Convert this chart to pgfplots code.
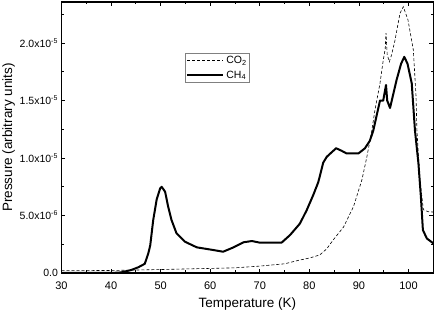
\documentclass[border=0pt]{standalone}
\usepackage{fontspec}
\setmainfont{Liberation Sans}
\usepackage{pgfplots}
\pgfplotsset{compat=1.18}
\begin{document}
\begin{tikzpicture}
\path[use as bounding box] (-61.5pt,-39pt) rectangle (374.5pt,273pt);
\begin{axis}[
  scale only axis,
  width=371.8pt, height=271pt,
  xmin=30, xmax=105, ymin=0, ymax=2.357,
  axis line style={line width=1.4pt},
  xtick={30,40,...,100},
  minor xtick={35,45,...,105},
  ytick={0,0.5,1,1.5,2},
  yticklabels={0.0,{5.0x10$^{\mbox{\scriptsize -6}}$},{1.0x10$^{\mbox{\scriptsize -5}}$},{1.5x10$^{\mbox{\scriptsize -5}}$},{2.0x10$^{\mbox{\scriptsize -5}}$}},
  minor ytick={0.25,0.75,1.25,1.75,2.25},
  tick align=inside,
  major tick length=4pt, minor tick length=2.5pt,
  tick style={black, line width=0.8pt},
  xticklabel style={font=\fontsize{11}{12}\selectfont, yshift=-5pt},
  yticklabel style={font=\fontsize{10.5}{12}\selectfont},
  /pgf/number format/assume math mode=true,
  xlabel={Temperature (K)},
  ylabel={Pressure (arbitrary units)},
  label style={font=\fontsize{13.5}{15}\selectfont},
  xlabel style={yshift=-2pt},
  ylabel style={yshift=-2pt},
  legend style={at={(0.332,0.813)}, anchor=north west, draw=gray, line width=0.8pt,
    font=\fontsize{10.5}{12}\selectfont, inner sep=1pt, row sep=2pt},
  legend cell align=left,
  legend image code/.code={\draw[#1] (0pt,0pt) -- (36pt,0pt);},
]
\addplot[black, line width=0.6pt, dash pattern=on 3pt off 2pt] coordinates {
(30,0.02) (40,0.022) (50,0.03) (60,0.04) (65,0.045) (70,0.06) (75,0.08)
(78.1,0.113) (80,0.13) (82.1,0.157) (83.5,0.21) (84.8,0.287) (86.9,0.40)
(88.9,0.577) (90.6,0.81) (91.6,1.01) (92.6,1.24) (93.24,1.42) (94.25,1.65)
(94.9,1.85) (95.3,1.95) (95.46,2.087) (95.7,1.9) (96.13,1.837) (96.6,1.90)
(97.28,2.026) (98.29,2.26) (98.95,2.316) (99.9,2.2) (100.97,1.94) (101.5,1.55)
(101.7,1.24) (102.3,0.81) (103,0.55) (104,0.533) (105,0.53)
};
\addlegendentry{CO\textsubscript{2}}
\addplot[black, line width=2pt, line join=round] coordinates {
(30,0) (40,0) (42,0.005) (44,0.025) (45.5,0.05) (46.8,0.08) (47.5,0.17)
(47.9,0.24) (48.5,0.46) (49.2,0.64) (49.9,0.736) (50.2,0.75) (50.9,0.707)
(51.5,0.58) (52.2,0.46) (53.2,0.345) (54.9,0.272) (57.3,0.223) (60.6,0.20)
(62.6,0.185) (64.7,0.223) (66.7,0.267) (68.4,0.278) (70,0.264) (74.4,0.264)
(76.1,0.33) (78.1,0.43) (79.5,0.55) (80.8,0.68) (81.8,0.79) (82.8,0.96)
(83.5,1.01) (84.5,1.05) (85.4,1.085) (86.5,1.063) (87.5,1.04) (89.9,1.04)
(91.2,1.084) (92.2,1.15) (92.9,1.24) (94.25,1.50) (94.9,1.50) (95.46,1.635)
(95.7,1.50) (96.27,1.435) (97.6,1.68) (98.5,1.82) (99.15,1.88) (99.8,1.82)
(100.65,1.65) (101.3,1.24) (102.0,0.954) (102.5,0.66) (102.9,0.374)
(103.7,0.30) (105,0.258)
};
\addlegendentry{CH\textsubscript{4}}
\end{axis}
\end{tikzpicture}
\end{document}
